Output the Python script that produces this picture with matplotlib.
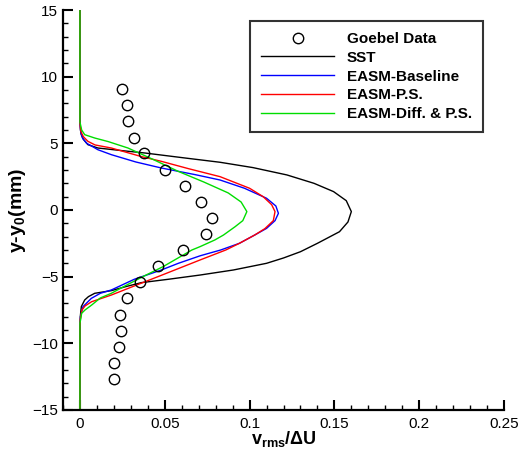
import matplotlib
matplotlib.use("Agg")
import matplotlib.pyplot as plt
from matplotlib.ticker import MultipleLocator

plt.rcParams['font.family'] = ['Liberation Sans', 'DejaVu Sans']
plt.rcParams['mathtext.fontset'] = 'custom'
plt.rcParams['mathtext.rm'] = 'Liberation Sans'
plt.rcParams['mathtext.bf'] = 'Liberation Sans:bold'

# Goebel experimental data
goebel_y = [9.05, 7.85, 6.65, 5.43, 4.25, 3.03, 1.83, 0.6, -0.6, -1.8, -3.02,
            -4.22, -5.4, -6.6, -7.85, -9.05, -10.25, -11.45, -12.67]
goebel_v = [0.025, 0.0277, 0.0283, 0.0319, 0.038, 0.0502, 0.0618, 0.0714, 0.078,
            0.0742, 0.0606, 0.0458, 0.0352, 0.0279, 0.0238, 0.0244, 0.023, 0.0199, 0.0199]

sst_y = [15, 7, 6.0, 5.65, 5.3, 4.9, 4.65, 4.45, 4.28, 3.9, 3.58, 3.18, 2.63, 2.0,
         1.38, 0.7, -0.12, -0.9, -1.63, -2.5, -3.13, -3.6, -4.0, -4.5, -4.88, -5.2,
         -5.45, -5.75, -6.05, -6.25, -6.5, -6.75, -7.25, -8.0, -9, -15]
sst_v = [0, 0, 0.0003, 0.0008, 0.002, 0.0047, 0.0106, 0.025, 0.038, 0.062, 0.0826,
         0.102, 0.122, 0.138, 0.1495, 0.157, 0.160, 0.158, 0.153, 0.140, 0.130, 0.12,
         0.110, 0.0905, 0.0708, 0.052, 0.0362, 0.027, 0.0185, 0.0087, 0.005, 0.0028,
         0.0008, 0.0002, 0, 0]

base_y = [15, 6.5, 5.8, 5.4, 5.0, 4.75, 4.52, 4.15, 3.6, 3.15, 2.65, 2.25, 1.63,
          0.88, 0.3, -0.25, -0.8, -1.38, -1.88, -2.5, -3.0, -3.43, -4.0, -4.5, -5.2,
          -6.0, -6.25, -6.63, -7.25, -8.0, -9, -15]
base_v = [0, 0, 0.0005, 0.0015, 0.004, 0.0075, 0.0106, 0.0185, 0.033, 0.048, 0.068,
          0.0826, 0.097, 0.110, 0.1155, 0.117, 0.115, 0.110, 0.103, 0.094, 0.083,
          0.071, 0.058, 0.048, 0.032, 0.0185, 0.012, 0.0067, 0.0018, 0.0003, 0, 0]

ps_y = [15, 6.5, 5.9, 5.5, 5.15, 4.88, 4.65, 4.0, 3.65, 3.1, 2.5, 1.63, 1.0, 0.4,
        -0.12, -0.8, -1.4, -1.88, -2.5, -3.0, -3.75, -4.9, -5.6, -6.38, -6.88, -7.2,
        -7.5, -8.2, -9, -15]
ps_v = [0, 0, 0.0005, 0.002, 0.0047, 0.0089, 0.0185, 0.0364, 0.048, 0.064, 0.0826,
        0.100, 0.108, 0.113, 0.115, 0.114, 0.109, 0.103, 0.094, 0.086, 0.0708, 0.048,
        0.034, 0.0185, 0.0069, 0.003, 0.0012, 0.0002, 0, 0]

dps_y = [15, 6.6, 6.0, 5.65, 5.4, 5.13, 4.65, 3.8, 2.9, 2.1, 1.28, 0.6, -0.12, -0.8,
         -1.25, -1.88, -2.25, -2.75, -3.0, -4.25, -4.88, -5.6, -6.25, -6.6, -7.13,
         -7.5, -7.75, -8.5, -15]
dps_v = [0, 0, 0.001, 0.0028, 0.0087, 0.0167, 0.0283, 0.043, 0.0579, 0.073, 0.0874,
         0.095, 0.0984, 0.096, 0.0915, 0.0846, 0.0795, 0.0708, 0.066, 0.049, 0.039,
         0.028, 0.0185, 0.012, 0.0069, 0.003, 0.001, 0, 0]

fig = plt.figure(figsize=(5.25, 4.57), dpi=100)
ax = fig.add_axes([0.12, 0.103, 0.84, 0.875])

ax.plot(goebel_v, goebel_y, 'o', mfc='none', mec='black', ms=7.5, mew=1.0,
        label='Goebel Data', zorder=5)
ax.plot(sst_v, sst_y, color='black', lw=1.0, label='SST')
ax.plot(base_v, base_y, color='#0000ff', lw=1.0, label='EASM-Baseline')
ax.plot(ps_v, ps_y, color='#ff0000', lw=1.0, label='EASM-P.S.')
ax.plot(dps_v, dps_y, color='#00dd00', lw=1.0, label='EASM-Diff. & P.S.')

ax.set_xlim(-0.01, 0.25)
ax.set_ylim(-15, 15)
ax.xaxis.set_major_locator(MultipleLocator(0.05))
ax.xaxis.set_minor_locator(MultipleLocator(0.01))
ax.yaxis.set_major_locator(MultipleLocator(5))
ax.yaxis.set_minor_locator(MultipleLocator(1))
ax.set_xticks([0, 0.05, 0.1, 0.15, 0.2, 0.25])
ax.set_xticklabels(['0', '0.05', '0.1', '0.15', '0.2', '0.25'])

for s in ['top', 'right']:
    ax.spines[s].set_visible(False)
for s in ['left', 'bottom']:
    ax.spines[s].set_linewidth(1.6)

ax.tick_params(which='major', direction='in', length=7, width=1.5, labelsize=11)
ax.tick_params(which='minor', direction='in', length=3.5, width=1.0)
ax.tick_params(axis='x', pad=5)

ax.set_xlabel(r'$\mathbf{v_{rms}}$/$\mathbf{\Delta U}$', fontsize=13, fontweight='bold', labelpad=-1)
ax.set_ylabel(r'y-y$_\mathbf{0}$(mm)', fontsize=14, fontweight='bold', labelpad=3)

leg = ax.legend(loc='upper right', bbox_to_anchor=(0.952, 0.9725), borderaxespad=0,
                frameon=True, fancybox=False, edgecolor='black', handlelength=4.8,
                labelspacing=0.31, prop={'weight': 'bold', 'size': 11}, borderpad=0.72,
                handletextpad=0.8)
leg.get_frame().set_linewidth(1.5)

fig.savefig('out.png', dpi=100)
